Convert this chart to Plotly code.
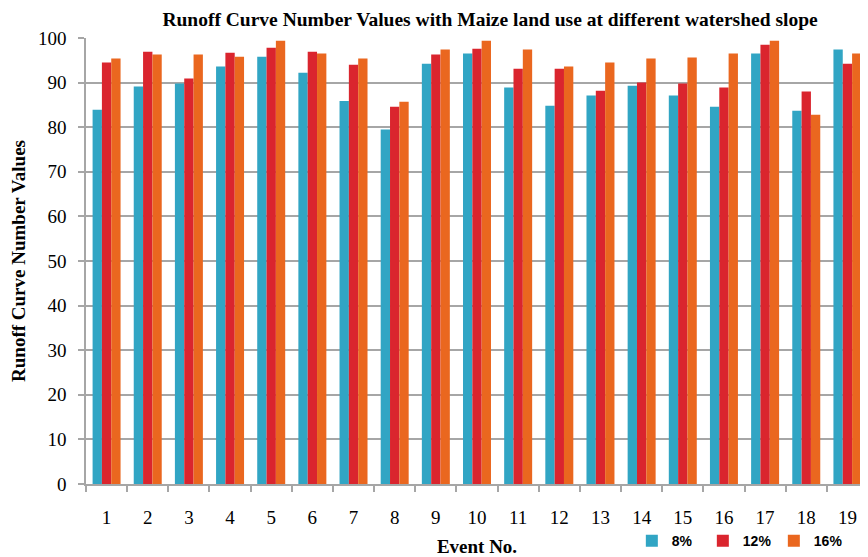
import plotly.graph_objects as go

events = [str(i) for i in range(1, 20)]
slope_8 = [83.9, 89.1, 89.8, 93.6, 95.8, 92.2, 85.9, 79.5, 94.2, 96.5,
           88.9, 84.8, 87.1, 89.3, 87.1, 84.6, 96.5, 83.7, 97.4]
slope_12 = [94.5, 96.9, 90.9, 96.7, 97.8, 96.9, 94.0, 84.6, 96.3, 97.6,
            93.1, 93.1, 88.2, 90.0, 89.8, 88.9, 98.5, 88.0, 94.2]
slope_16 = [95.4, 96.3, 96.3, 95.8, 99.4, 96.5, 95.4, 85.7, 97.4, 99.4,
            97.4, 93.6, 94.5, 95.4, 95.6, 96.5, 99.4, 82.8, 96.5]
series_names = ["8%", "12%", "16%"]
colors = ["#31A5C4", "#DA252E", "#EA671F"]
y_ticks = list(range(0, 101, 10))

fig = go.Figure()
for name, vals, col in zip(series_names, [slope_8, slope_12, slope_16], colors):
    fig.add_trace(go.Bar(x=events, y=vals, name=name, marker=dict(color=col, line=dict(width=0))))

serif = "Liberation Serif, Times New Roman, serif"
# page body has an 8px default margin, so the figure is 8px smaller than the window
fig.update_layout(
    width=860, height=549,
    margin=dict(l=78, r=0, t=30, b=73, autoexpand=False),
    plot_bgcolor="white", paper_bgcolor="white",
    barmode="group", bargap=0.32, bargroupgap=0,
    title=dict(text="<b>Runoff Curve Number Values with Maize land use at different watershed slope</b>",
               font=dict(family=serif, size=19.5, color="black"),
               x=0.5605, xanchor="center", xref="container", y=1, yanchor="top",
               pad=dict(t=4, b=0)),
    legend=dict(orientation="h", x=0.698, xanchor="left", y=-0.128, yanchor="middle",
                font=dict(family="Liberation Sans", size=14, color="black", weight="bold"),
                entrywidth=26, entrywidthmode="pixels", itemwidth=30, bgcolor="rgba(0,0,0,0)"),
    showlegend=True,
)
fig.update_xaxes(
    title=dict(text="<b>Event No.</b>", font=dict(family=serif, size=19, color="black"), standoff=14),
    tickfont=dict(family=serif, size=19, color="black"),
    showline=True, linecolor="#a6a6a6", linewidth=1.5,
    ticks="outside", tickson="boundaries", ticklen=6, tickcolor="#a6a6a6", tickwidth=1.5,
    ticklabelstandoff=15, showgrid=False,
)
fig.update_yaxes(
    title=dict(text="<b>Runoff Curve Number Values</b>", font=dict(family=serif, size=19, color="black"), standoff=14),
    tickfont=dict(family=serif, size=19, color="black"),
    range=[0, 100], tickvals=y_ticks,
    showline=True, linecolor="#a6a6a6", linewidth=1.5,
    ticks="outside", ticklen=6, tickcolor="#a6a6a6", tickwidth=1.5,
    ticklabelstandoff=8,
    showgrid=True, gridcolor="#a6a6a6", gridwidth=2, zeroline=False,
)

fig.write_html("out.html")
